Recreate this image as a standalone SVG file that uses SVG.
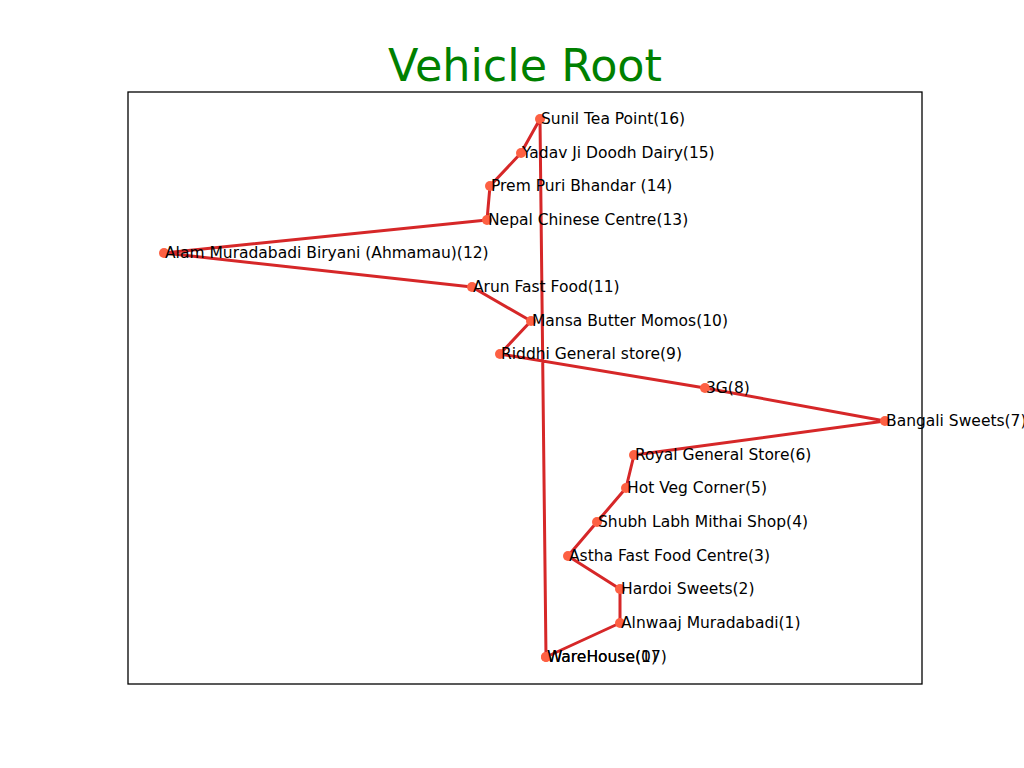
<svg xmlns="http://www.w3.org/2000/svg" width="1024" height="768" viewBox="0 0 1024 768">
<style>
.lbl{font-family:"DejaVu Sans",sans-serif;font-size:15.5px;fill:#000}
.title{font-family:"DejaVu Sans",sans-serif;font-size:44.5px;fill:#008000}
.edge{fill:none;stroke:#d62728;stroke-width:3;stroke-linejoin:round;stroke-linecap:round}
.node{fill:#fd6043;stroke:none}
</style>
<rect width="1024" height="768" fill="#fff"/>
<text class="title" x="525" y="81" text-anchor="middle">Vehicle Root</text>
<rect x="128" y="92" width="794" height="592" fill="none" stroke="#000" stroke-width="1.3"/>
<g id="connectors">
<polyline class="edge" points="546,657 620,623 620,589 568,556 597,522 626,488 634,455 885,421 705,388 500,354 531,321 472,287 164,253 487,220 490,186 521,153 540,119 546,657"/>
</g>
<g id="n0"><circle class="node" cx="546" cy="657" r="5"/><text class="lbl" x="547" y="662">WareHouse(0)</text></g>
<g id="n17"><circle class="node" cx="546" cy="657" r="5"/><text class="lbl" x="547" y="662">WareHouse(17)</text></g>
<g id="n1"><circle class="node" cx="620" cy="623" r="5"/><text class="lbl" x="621" y="628">Alnwaaj Muradabadi(1)</text></g>
<g id="n2"><circle class="node" cx="620" cy="589" r="5"/><text class="lbl" x="621" y="594">Hardoi Sweets(2)</text></g>
<g id="n3"><circle class="node" cx="568" cy="556" r="5"/><text class="lbl" x="569" y="561">Astha Fast Food Centre(3)</text></g>
<g id="n4"><circle class="node" cx="597" cy="522" r="5"/><text class="lbl" x="598" y="527">Shubh Labh Mithai Shop(4)</text></g>
<g id="n5"><circle class="node" cx="626" cy="488" r="5"/><text class="lbl" x="627" y="493">Hot Veg Corner(5)</text></g>
<g id="n6"><circle class="node" cx="634" cy="455" r="5"/><text class="lbl" x="635" y="460">Royal General Store(6)</text></g>
<g id="n7"><circle class="node" cx="885" cy="421" r="5"/><text class="lbl" x="886" y="426">Bangali Sweets(7)</text></g>
<g id="n8"><circle class="node" cx="705" cy="388" r="5"/><text class="lbl" x="706" y="393">3G(8)</text></g>
<g id="n9"><circle class="node" cx="500" cy="354" r="5"/><text class="lbl" x="501" y="359">Riddhi General store(9)</text></g>
<g id="n10"><circle class="node" cx="531" cy="321" r="5"/><text class="lbl" x="532" y="326">Mansa Butter Momos(10)</text></g>
<g id="n11"><circle class="node" cx="472" cy="287" r="5"/><text class="lbl" x="473" y="292">Arun Fast Food(11)</text></g>
<g id="n12"><circle class="node" cx="164" cy="253" r="5"/><text class="lbl" x="165" y="258">Alam Muradabadi Biryani (Ahmamau)(12)</text></g>
<g id="n13"><circle class="node" cx="487" cy="220" r="5"/><text class="lbl" x="488" y="225">Nepal Chinese Centre(13)</text></g>
<g id="n14"><circle class="node" cx="490" cy="186" r="5"/><text class="lbl" x="491" y="191">Prem Puri Bhandar (14)</text></g>
<g id="n15"><circle class="node" cx="521" cy="153" r="5"/><text class="lbl" x="522" y="158">Yadav Ji Doodh Dairy(15)</text></g>
<g id="n16"><circle class="node" cx="540" cy="119" r="5"/><text class="lbl" x="541" y="124">Sunil Tea Point(16)</text></g>
</svg>
